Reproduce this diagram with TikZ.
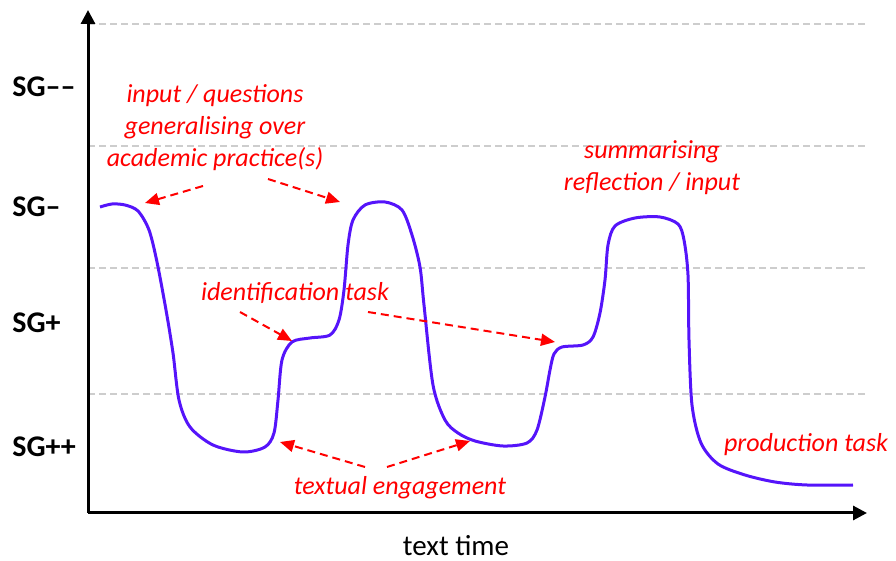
\documentclass[tikz,border=0pt]{standalone}
\usepackage{fontspec}
\setmainfont{Carlito}
\usepackage{tikz}
\usetikzlibrary{arrows.meta, positioning}
\definecolor{myred}{RGB}{255,0,0}
\definecolor{myblue}{RGB}{85,20,250}
\definecolor{mygrey}{RGB}{205,205,205}
\tikzset{
  sglabel/.style={font=\fontsize{15}{18}\selectfont\bfseries, anchor=west, inner sep=0pt},
  note/.style={font=\fontsize{13}{16}\selectfont\itshape, text=myred, align=center},
  axis/.style={-{Triangle[length=7pt,width=7pt]}, line width=1.5pt},
  level/.style={mygrey, line width=0.75pt, dash pattern=on 3.5pt off 2pt},
  redarrow/.style={-{Triangle[length=7pt,width=6pt]}, myred, line width=1pt, dash pattern=on 4pt off 2.5pt},
  curve/.style={myblue, line width=1.5pt}
}

\begin{document}
\begin{tikzpicture}[x=0.5pt, y=-0.5pt]
  \useasboundingbox (0,0) rectangle (896,561);

  % levels
  \foreach \y in {24, 146, 268, 394} {
    \draw[level] (88,\y) -- (868,\y);
  }
  \foreach \y/\lab/\nm in {87/SG––/sgmm, 207/SG–/sgm, 323/SG+/sgp, 447/SG++/sgpp} {
    \node[sglabel] (\nm) at (12,\y) {\lab};
  }

  % axes
  \coordinate (origin) at (88,513);
  \coordinate (ytop) at (88,10);
  \coordinate (xend) at (867,513);
  \draw[axis] (origin) -- (ytop);
  \draw[axis] (origin) -- (xend);
  \node[font=\fontsize{14.5}{17}\selectfont, inner sep=0pt] (xlab) at (456,546) {text time};

  % curve
  \draw[curve] plot[smooth, tension=0.5] coordinates {
    (100,207) (112,204) (125,205) (138,211) (149,230) (157,262) (166,310)
    (173,353) (179,400) (190,427) (213,445) (243,452) (265,447) (274,433)
    (278,400) (282,360) (292,342) (310,338) (330,335) (339,320) (344,290)
    (348,245) (353,220) (365,205) (385,202) (402,210) (412,235) (420,267)
    (424,305) (433,385) (445,420) (458,433) (475,441) (503,446) (527,443)
    (537,430) (545,397) (550,370) (554,354) (562,347) (583,345) (593,337)
    (600,313) (605,280) (608,245) (615,226) (635,218) (660,217) (678,224)
    (684,240) (688,275) (689,340) (692,405) (701,443) (718,464) (745,475)
    (775,482) (807,485) (853,485)};

  % notes
  \node[note] (input) at (215,128) {input / questions\\generalising over\\academic practice(s)};
  \node[note] (summ) at (652,168) {summarising\\reflection / input};
  \node[note] (ident) at (295,293) {identification task};
  \node[note] (textual) at (400,488) {textual engagement};
  \node[note] (prod) at (806,445) {production task};

  % arrows
  \coordinate (a1s) at (203,186);  \coordinate (a1e) at (145,203);
  \coordinate (a2s) at (268,179);  \coordinate (a2e) at (340,202);
  \coordinate (a3s) at (240,312);  \coordinate (a3e) at (292,341);
  \coordinate (a4s) at (368,312);  \coordinate (a4e) at (555,342);
  \coordinate (a5s) at (365,467);  \coordinate (a5e) at (280,442);
  \coordinate (a6s) at (387,467);  \coordinate (a6e) at (470,441);
  \draw[redarrow] (a1s) -- (a1e);
  \draw[redarrow] (a2s) -- (a2e);
  \draw[redarrow] (a3s) -- (a3e);
  \draw[redarrow] (a4s) -- (a4e);
  \draw[redarrow] (a5s) -- (a5e);
  \draw[redarrow] (a6s) -- (a6e);
\end{tikzpicture}
\end{document}
